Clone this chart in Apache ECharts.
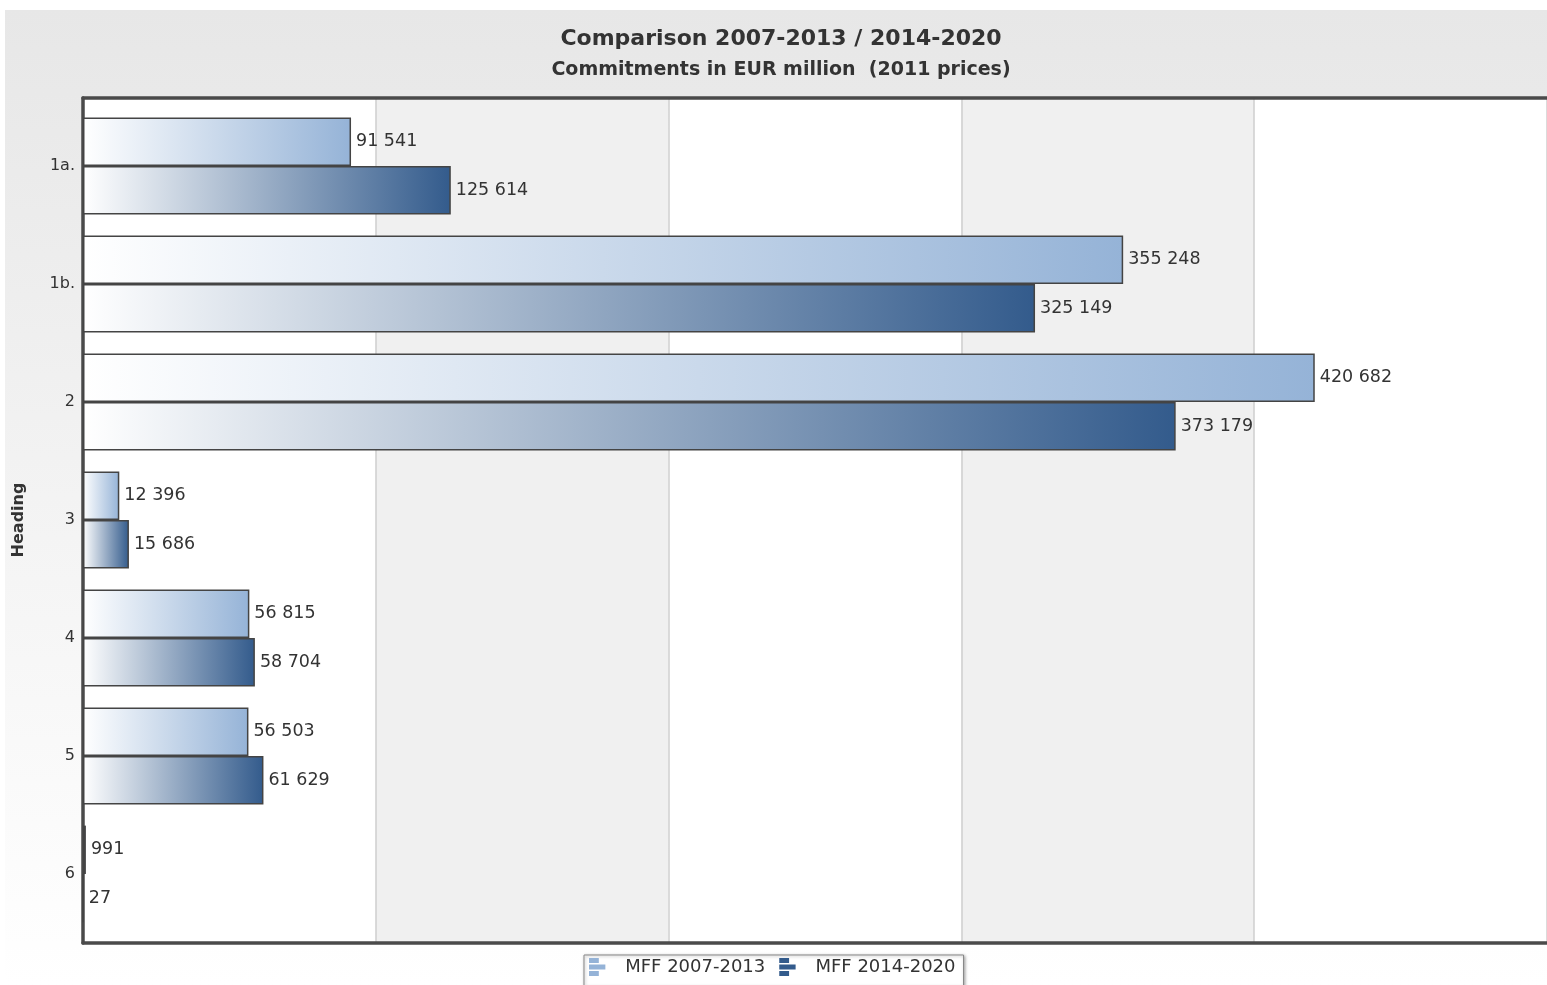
<!DOCTYPE html>
<html>
<head>
<meta charset="utf-8">
<script src="https://cdn.jsdelivr.net/npm/echarts@6/dist/echarts.min.js"></script>
<style>
html,body{margin:0;padding:0;background:#fff;}
#main{width:1547px;height:985px;}
</style>
</head>
<body>
<div id="main"></div>
<script>
const categories = ['1a.', '1b.', '2', '3', '4', '5', '6'];
const seriesNames = ['MFF 2007-2013', 'MFF 2014-2020'];
const mff2007 = [91541, 355248, 420682, 12396, 56815, 56503, 991];
const mff2014 = [125614, 325149, 373179, 15686, 58704, 61629, 27];
const xTicks = [0, 100000, 200000, 300000, 400000, 500000];
const seriesColors = ['#95b3d7', '#335b8c'];

function fmt(v) {
  return String(v).replace(/\B(?=(\d{3})+(?!\d))/g, ' ');
}
function grad(c) {
  return new echarts.graphic.LinearGradient(0, 0, 1, 0, [
    { offset: 0, color: '#ffffff' },
    { offset: 1, color: c }
  ]);
}
const FONT = 'DejaVu Sans';
const chart = echarts.init(document.getElementById('main'));
const icon = 'path://M0,0h6v3h-6z M0,4h10v3h-10z M0,8h6v3h-6z';
const xMin = xTicks[0], xMax = xTicks[xTicks.length - 1], xStep = xTicks[1] - xTicks[0];
const frameLine = { show: true, lineStyle: { color: '#4a4a4a', width: 3.5 } };

chart.setOption({
  animation: false,
  textStyle: { fontFamily: FONT },
  graphic: [{
    type: 'rect', z: -10, silent: true,
    shape: { x: 5, y: 10, width: 1542, height: 975 },
    style: {
      fill: new echarts.graphic.LinearGradient(0, 0, 0, 1, [
        { offset: 0, color: '#e7e7e7' },
        { offset: 1, color: '#ffffff' }
      ])
    }
  }],
  title: [{
    text: 'Comparison 2007-2013 / 2014-2020',
    left: 776, top: 23, textAlign: 'center',
    textStyle: { fontFamily: FONT, fontWeight: 'bold', fontSize: 22, color: '#333' }
  }, {
    text: 'Commitments in EUR million  (2011 prices)',
    left: 776, top: 56, textAlign: 'center',
    textStyle: { fontFamily: FONT, fontWeight: 'bold', fontSize: 19, color: '#333' }
  }],
  legend: {
    data: [
      { name: seriesNames[0], itemStyle: { color: seriesColors[0], borderWidth: 0 } },
      { name: seriesNames[1], itemStyle: { color: seriesColors[1], borderWidth: 0 } }
    ],
    left: 584, top: 955,
    icon: icon,
    itemWidth: 18, itemHeight: 18,
    itemGap: 14,
    padding: [3, 8, 10, 5],
    borderColor: '#888', borderWidth: 1,
    backgroundColor: '#fff',
    shadowColor: 'rgba(0,0,0,0.3)', shadowBlur: 3, shadowOffsetX: 1, shadowOffsetY: 1,
    textStyle: { fontFamily: FONT, fontSize: 18, color: '#333', padding: [0, 0, 0, 14] }
  },
  grid: [{
    left: 83, right: -3, top: 98, bottom: 42
  }, {
    left: 83, right: -3, top: 107, bottom: 52
  }],
  xAxis: [{
    gridIndex: 0, type: 'value', min: xMin, max: xMax, interval: xStep, position: 'bottom',
    axisLabel: { show: false }, axisLine: frameLine, axisTick: { show: false },
    splitLine: { show: true, lineStyle: { color: '#cfcfcf', width: 1.5 } },
    splitArea: { show: true, areaStyle: { color: ['#ffffff', '#f0f0f0'] } }
  }, {
    gridIndex: 0, type: 'value', min: xMin, max: xMax, interval: xStep, position: 'top',
    axisLabel: { show: false }, axisLine: frameLine, axisTick: { show: false },
    splitLine: { show: false }
  }, {
    gridIndex: 1, type: 'value', min: xMin, max: xMax, interval: xStep,
    axisLabel: { show: false }, axisLine: { show: false }, axisTick: { show: false },
    splitLine: { show: false }
  }],
  yAxis: [{
    gridIndex: 0, type: 'value', position: 'left',
    axisLabel: { show: false }, axisLine: frameLine, axisTick: { show: false },
    splitLine: { show: false }
  }, {
    gridIndex: 1, type: 'category', data: categories, inverse: true,
    name: 'Heading', nameLocation: 'middle', nameGap: 56, nameRotate: 90,
    nameTextStyle: { fontFamily: FONT, fontWeight: 'bold', fontSize: 16, color: '#333' },
    axisLine: { show: false },
    axisTick: { show: false },
    axisLabel: { fontFamily: FONT, fontSize: 16, color: '#333', margin: 8 },
    splitLine: { show: false }
  }],
  series: [{
    name: seriesNames[0], type: 'bar', data: mff2007, xAxisIndex: 2, yAxisIndex: 1,
    barGap: '0%', barCategoryGap: '18%',
    itemStyle: { color: grad(seriesColors[0]), borderColor: '#444', borderWidth: 1.5 },
    label: { show: true, position: 'right', distance: 5, formatter: p => fmt(p.value),
      fontFamily: FONT, fontSize: 17.5, color: '#333' }
  }, {
    name: seriesNames[1], type: 'bar', data: mff2014, xAxisIndex: 2, yAxisIndex: 1,
    barGap: '0%', barCategoryGap: '18%',
    itemStyle: { color: grad(seriesColors[1]), borderColor: '#444', borderWidth: 1.5 },
    label: { show: true, position: 'right', distance: 5, formatter: p => fmt(p.value),
      fontFamily: FONT, fontSize: 17.5, color: '#333' }
  }]
});
</script>
</body>
</html>
